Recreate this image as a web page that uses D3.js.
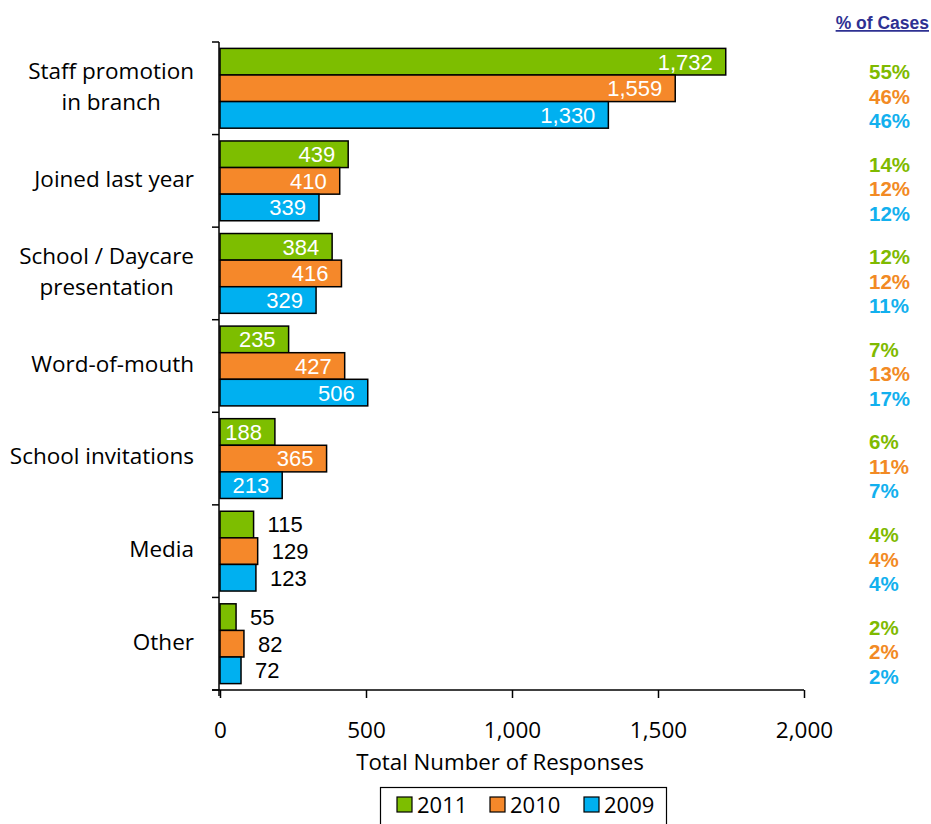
<!DOCTYPE html>
<html>
<head>
<meta charset="utf-8">
<script src="https://cdn.jsdelivr.net/npm/d3@7"></script>
<style>
  html, body { margin: 0; padding: 0; background: #fff; }
  svg { display: block; }
</style>
</head>
<body>
<svg id="chart" width="931" height="824"></svg>
<script>
// ---- Data ----
const categories = ["Staff promotion\nin branch", "Joined last year", "School / Daycare\npresentation", "Word-of-mouth", "School invitations", "Media", "Other"];
const seriesNames = ["2011", "2010", "2009"];
const values2011 = [1732, 439, 384, 235, 188, 115, 55];
const values2010 = [1559, 410, 416, 427, 365, 129, 82];
const values2009 = [1330, 339, 329, 506, 213, 123, 72];
const pct2011 = ["55%", "14%", "12%", "7%", "6%", "4%", "2%"];
const pct2010 = ["46%", "12%", "12%", "13%", "11%", "4%", "2%"];
const pct2009 = ["46%", "12%", "11%", "17%", "7%", "4%", "2%"];
const xTicks = [0, 500, 1000, 1500, 2000];
const seriesColors = ["#7DBE00", "#F5882A", "#00B0F0"];
const pctColors = ["#7FBA00", "#F28A24", "#12B0EE"];

const seriesValues = [values2011, values2010, values2009];
const seriesPct = [pct2011, pct2010, pct2009];

const svg = d3.select("#chart");
const font = "'Open Sans', sans-serif";
const labelFont = "'Liberation Sans', Arial, sans-serif";
const catSize = "22.5px";

const x = d3.scaleLinear().domain([0, 2000]).range([220, 804]);
const y0 = d3.scaleBand().domain(categories).range([42, 690]).padding(0);
const y1 = d3.scaleBand().domain(seriesNames).range([0, y0.bandwidth()]).paddingInner(0).paddingOuter(0.24);

// Bars
const g = svg.append("g");
categories.forEach((cat, ci) => {
  const cg = g.append("g").attr("transform", `translate(0,${y0(cat)})`);
  seriesNames.forEach((s, si) => {
    const v = seriesValues[si][ci];
    cg.append("rect")
      .attr("x", x(0))
      .attr("y", y1(s))
      .attr("width", x(v) - x(0))
      .attr("height", y1.bandwidth())
      .attr("fill", seriesColors[si])
      .attr("stroke", "#000")
      .attr("stroke-width", 1.5);
    const inside = v >= 150;
    cg.append("text")
      .attr("x", inside ? x(v) - 13 : x(v) + 14)
      .attr("y", y1(s) + y1.bandwidth() / 2)
      .attr("dy", "0.36em")
      .attr("text-anchor", inside ? "end" : "start")
      .attr("fill", inside ? "#fff" : "#000")
      .style("font-family", labelFont)
      .style("font-size", "22px")
      .text(d3.format(",")(v));
  });
});

// Y axis (category separators)
const yAxisG = svg.append("g");
yAxisG.append("line")
  .attr("x1", x(0) - 1).attr("x2", x(0) - 1)
  .attr("y1", y0.range()[0]).attr("y2", y0.range()[1] + 6)
  .attr("stroke", "#000").attr("stroke-width", 1.5);
const sepPositions = categories.map(c => y0(c)).concat([y0.range()[1]]);
sepPositions.forEach(p => {
  yAxisG.append("line")
    .attr("x1", x(0) - 8).attr("x2", x(0) - 1)
    .attr("y1", p).attr("y2", p)
    .attr("stroke", "#000").attr("stroke-width", 1.5);
});

// Category labels
categories.forEach(cat => {
  const lines = cat.split("\n");
  const cy = y0(cat) + y0.bandwidth() / 2 - 2;
  const lh = 31;
  const t = svg.append("text")
    .style("font-family", font)
    .style("font-size", catSize)
    .attr("fill", "#000");
  if (lines.length === 1) {
    t.attr("x", 194).attr("y", cy).attr("dy", "0.35em").attr("text-anchor", "end").text(lines[0]);
  } else {
    const tmp = svg.append("text").style("font-family", font).style("font-size", catSize).text(lines[0]);
    let maxW = 0;
    lines.forEach(l => { tmp.text(l); maxW = Math.max(maxW, tmp.node().getComputedTextLength()); });
    tmp.remove();
    const cx = 194 - maxW / 2;
    t.attr("text-anchor", "middle");
    lines.forEach((l, i) => {
      t.append("tspan")
        .attr("x", cx)
        .attr("y", cy + (i - (lines.length - 1) / 2) * lh)
        .attr("dy", "0.35em")
        .text(l);
    });
  }
});

// X axis
const xAxisG = svg.append("g").attr("transform", `translate(0,${y0.range()[1]})`);
xAxisG.call(d3.axisBottom(x).tickValues(xTicks).tickFormat(d3.format(",")).tickSize(8).tickSizeOuter(0).tickPadding(24));
xAxisG.select(".domain").attr("stroke", "#000").attr("stroke-width", 1.5).attr("d", `M${x(0) - 8},0H${x(2000)}`);
xAxisG.selectAll(".tick line").attr("stroke", "#000").attr("stroke-width", 1.5);
xAxisG.selectAll(".tick text")
  .style("font-family", font)
  .style("font-size", "22.5px")
  .attr("fill", "#000");

svg.append("text")
  .attr("x", 500).attr("y", 770)
  .attr("text-anchor", "middle")
  .style("font-family", font)
  .style("font-size", "22.3px")
  .attr("fill", "#000")
  .text("Total Number of Responses");

// % of Cases column
svg.append("text")
  .attr("x", 929).attr("y", 29)
  .attr("text-anchor", "end")
  .style("font-family", "'Liberation Sans', Arial, sans-serif")
  .style("font-size", "17.5px")
  .style("font-weight", "bold")
  .style("text-decoration", "underline")
  .attr("fill", "#2E3192")
  .text("% of Cases");

categories.forEach((cat, ci) => {
  const mid = y0(cat) + y1(seriesNames[1]) + y1.bandwidth() / 2 + 8;
  seriesNames.forEach((s, si) => {
    svg.append("text")
      .attr("x", 869)
      .attr("y", mid + (si - 1) * 24.5)
      .attr("dy", "0.36em")
      .style("font-family", "'Liberation Sans', Arial, sans-serif")
      .style("font-size", "20.5px")
      .style("font-weight", "bold")
      .attr("fill", pctColors[si])
      .text(seriesPct[si][ci]);
  });
});

// Legend
const lg = svg.append("g");
lg.append("rect")
  .attr("x", 380.5).attr("y", 787.5)
  .attr("width", 286).attr("height", 50)
  .attr("fill", "#fff").attr("stroke", "#000").attr("stroke-width", 1.2);
const legendX = [397, 490, 584];
seriesNames.forEach((s, si) => {
  lg.append("rect")
    .attr("x", legendX[si]).attr("y", 797)
    .attr("width", 15).attr("height", 15)
    .attr("fill", seriesColors[si])
    .attr("stroke", "#000").attr("stroke-width", 1.2);
  lg.append("text")
    .attr("x", legendX[si] + 20).attr("y", 805)
    .attr("dy", "0.36em")
    .style("font-family", font)
    .style("font-size", "22px")
    .attr("fill", "#000")
    .text(s);
});
</script>
</body>
</html>
